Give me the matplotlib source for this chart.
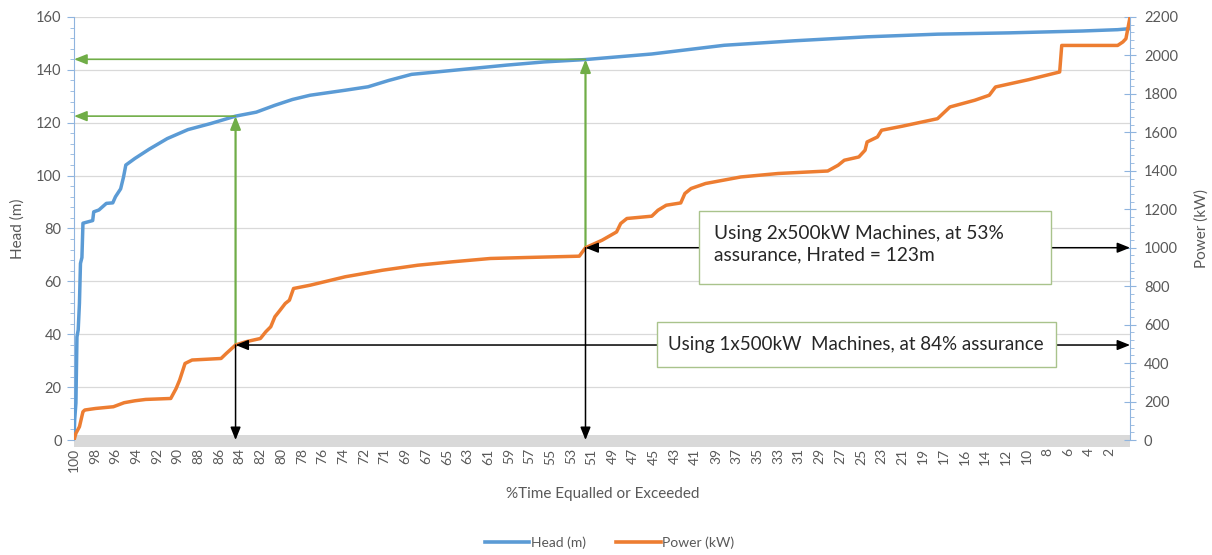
import numpy as np
import matplotlib
matplotlib.use('Agg')
import matplotlib.pyplot as plt
from matplotlib.patches import Rectangle
from matplotlib.lines import Line2D

plt.rcParams['font.family'] = ['Lato', 'DejaVu Sans']

# category labels along the x axis (% time equalled or exceeded)
x_labels = [100, 98, 96, 94, 92, 90, 88, 86, 84, 82, 80, 78, 76, 74, 72, 71, 69, 67, 65, 63,
            61, 59, 57, 55, 53, 51, 49, 47, 45, 43, 41, 39, 37, 35, 33, 31, 29, 27, 25, 23,
            21, 19, 17, 16, 14, 12, 10, 8, 6, 4, 2]

# head curve (position along category axis, metres)
head_pos = [0, 0.03, 0.09, 0.14, 0.2, 0.26, 0.31, 0.38, 0.43, 0.9, 0.95, 1.2, 1.56, 1.87, 2.0,
            2.25, 2.39, 2.5, 2.94, 3.63, 4.5, 5.5, 6.6, 7.8, 8.8, 9.7, 10.55, 11.4, 13.1, 14.2,
            15.2, 16.3, 17.5, 19.2, 20.9, 22.7, 24.7, 27.9, 31.4, 34.8, 38.3, 41.7, 45.2, 48.7,
            50.4, 51.0]
head_m = [0, 7.6, 14, 39, 41.6, 51.7, 66.8, 69, 82, 83, 86.3, 87, 89.5, 89.7, 92,
          95, 99.5, 104, 106.5, 110, 114, 117.4, 119.7, 122.5, 124, 126.6, 128.8, 130.4, 132.3, 133.6,
          136, 138.3, 139.2, 140.5, 141.8, 143, 143.9, 146, 149.3, 151, 152.5, 153.5, 154, 154.7,
          155.2, 155.6]

# power curve (position along category axis, kW)
power_pos = [0, 0.09, 0.26, 0.43, 0.52, 1.04, 1.9, 2.42, 2.94, 3.46, 4.67, 4.93, 5.1, 5.36, 5.7,
             7.1, 7.35, 7.8, 8.3, 9.0, 9.26, 9.5, 9.7, 9.95, 10.2, 10.4, 10.6, 11.4, 13.1, 14.9,
             16.6, 18.3, 20.1, 21.8, 24.4, 24.7, 25.5, 26.2, 26.4, 26.7, 27.9, 28.2, 28.6, 29.3, 29.5,
             29.8, 30.5, 32.2, 34.0, 36.4, 36.9, 37.2, 37.9, 38.2, 38.3, 38.8, 39.0, 40.0, 41.7, 42.3,
             43.5, 44.2, 44.5, 46.1, 47.6, 47.7, 50.4, 50.65, 50.8, 51.0]
power_kw = [0, 35, 69, 147, 156, 164, 173, 194, 204, 211, 216, 268, 312, 398, 416,
            424, 450, 494, 511, 528, 563, 589, 641, 675, 710, 727, 788, 805, 849, 883,
            909, 927, 944, 949, 956, 1000, 1039, 1082, 1126, 1152, 1164, 1195, 1221, 1233, 1282,
            1308, 1334, 1368, 1386, 1399, 1429, 1455, 1472, 1507, 1550, 1576, 1611, 1632, 1671, 1732,
            1767, 1793, 1836, 1874, 1914, 2052, 2052, 2070, 2087, 2200]

# design points: (position, head, power)
pt84 = (7.8, 122.5, 494)
pt53 = (24.7, 144.0, 1000)

blue = '#5b9bd5'
orange = '#ed7d31'
green = '#70ad47'
axis_blue = '#8fb4de'
grey_txt = '#595959'

fig = plt.figure(figsize=(12.12, 5.55), dpi=100)
ax = fig.add_axes([0.0611, 0.2072, 0.8713, 0.7622])
ax2 = ax.twinx()

ax.set_xlim(0, 51)
ax.set_ylim(0, 160)
ax2.set_ylim(0, 2200)

ax.set_yticks(np.arange(0, 161, 20))
ax.set_yticks(np.arange(0, 161, 4), minor=True)
ax2.set_yticks(np.arange(0, 2201, 200))
ax2.set_yticks(np.arange(0, 2201, 40), minor=True)
ax.set_xticks(np.arange(len(x_labels)))
ax.set_xticklabels([str(v) for v in x_labels], rotation=90)

ax.grid(axis='y', color='#d9d9d9', linewidth=0.9)
ax.set_axisbelow(True)

for a in (ax, ax2):
    for s in ('top', 'bottom'):
        a.spines[s].set_visible(False)
ax.spines['right'].set_visible(False)
ax2.spines['left'].set_visible(False)
ax.spines['left'].set_color(axis_blue)
ax2.spines['right'].set_color(axis_blue)

ax.tick_params(axis='y', which='major', direction='out', length=5, color=axis_blue,
               labelcolor=grey_txt, labelsize=10.5, pad=4)
ax.tick_params(axis='y', which='minor', direction='out', length=3, color=axis_blue)
ax2.tick_params(axis='y', which='major', direction='inout', length=8, color=axis_blue,
                labelcolor=grey_txt, labelsize=10.5, pad=6)
ax2.tick_params(axis='y', which='minor', direction='out', length=3, color=axis_blue)
ax.tick_params(axis='x', length=0, labelcolor=grey_txt, labelsize=10, pad=6)

# grey horizontal axis band
ax.add_patch(Rectangle((0, -2.6), 51, 4.4, facecolor='#d9d9d9', edgecolor='none',
                       clip_on=False, zorder=0.5))

ax.plot(head_pos, head_m, color=blue, linewidth=2.5, zorder=3)
ax2.plot(power_pos, power_kw, color=orange, linewidth=2.5, zorder=3)

ax.set_ylabel('Head (m)', color=grey_txt, fontsize=11, labelpad=8)
ax2.set_ylabel('Power (kW)', color=grey_txt, fontsize=11, labelpad=12, rotation=90)

# green arrows: power point -> head curve -> head axis
for p in (pt84, pt53):
    ax.annotate('', xy=(p[0], p[1]), xycoords=ax.transData,
                xytext=(p[0], p[2]), textcoords=ax2.transData,
                arrowprops=dict(arrowstyle='-|>,head_length=0.55,head_width=0.22',
                                color=green, lw=1.6, shrinkA=0, shrinkB=0, mutation_scale=14),
                zorder=4)
    ax.annotate('', xy=(0.0, p[1]), xytext=(p[0], p[1]),
                arrowprops=dict(arrowstyle='-|>,head_length=0.55,head_width=0.22',
                                color=green, lw=1.2, shrinkA=0, shrinkB=0, mutation_scale=14),
                zorder=4, annotation_clip=False)

# black arrows: down to x axis, and across to power axis
for p in (pt84, pt53):
    ax2.annotate('', xy=(p[0], 0), xytext=(p[0], p[2]),
                 arrowprops=dict(arrowstyle='-|>,head_length=0.55,head_width=0.22',
                                 color='black', lw=1.1, shrinkA=0, shrinkB=0, mutation_scale=14),
                 zorder=5, annotation_clip=False)
    ax2.annotate('', xy=(51, p[2]), xytext=(p[0], p[2]),
                 arrowprops=dict(arrowstyle='<|-|>,head_length=0.55,head_width=0.22',
                                 color='black', lw=1.1, shrinkA=0, shrinkB=0, mutation_scale=14),
                 zorder=5, annotation_clip=False)

# callout boxes
box_edge = '#a9c38c'
ax2.add_patch(Rectangle((30.2, 811), 17.0, 380, facecolor='white', edgecolor=box_edge,
                        linewidth=1.0, zorder=6))
ax2.text(30.9, 1019, 'Using 2x500kW Machines, at 53%\nassurance, Hrated = 123m',
         ha='left', va='center', fontsize=13.8, color='#262626', linespacing=1.3, zorder=7)
ax2.add_patch(Rectangle((28.14, 380), 19.3, 234, facecolor='white', edgecolor=box_edge,
                        linewidth=1.0, zorder=6))
ax2.text(37.75, 499, 'Using 1x500kW  Machines, at 84% assurance',
         ha='center', va='center', fontsize=13.5, color='#262626', zorder=7)

fig.text(0.497, 0.11, '%Time Equalled or Exceeded', ha='center', va='center',
         fontsize=11, color=grey_txt)

handles = [Line2D([], [], color=blue, linewidth=2.6), Line2D([], [], color=orange, linewidth=2.6)]
fig.legend(handles, ['Head (m)', 'Power (kW)'], loc='center', bbox_to_anchor=(0.503, 0.022),
           ncol=2, frameon=False, fontsize=10, labelcolor=grey_txt, handlelength=3.2,
           handletextpad=0.1, columnspacing=2.2)

fig.savefig('out.png', dpi=100)
